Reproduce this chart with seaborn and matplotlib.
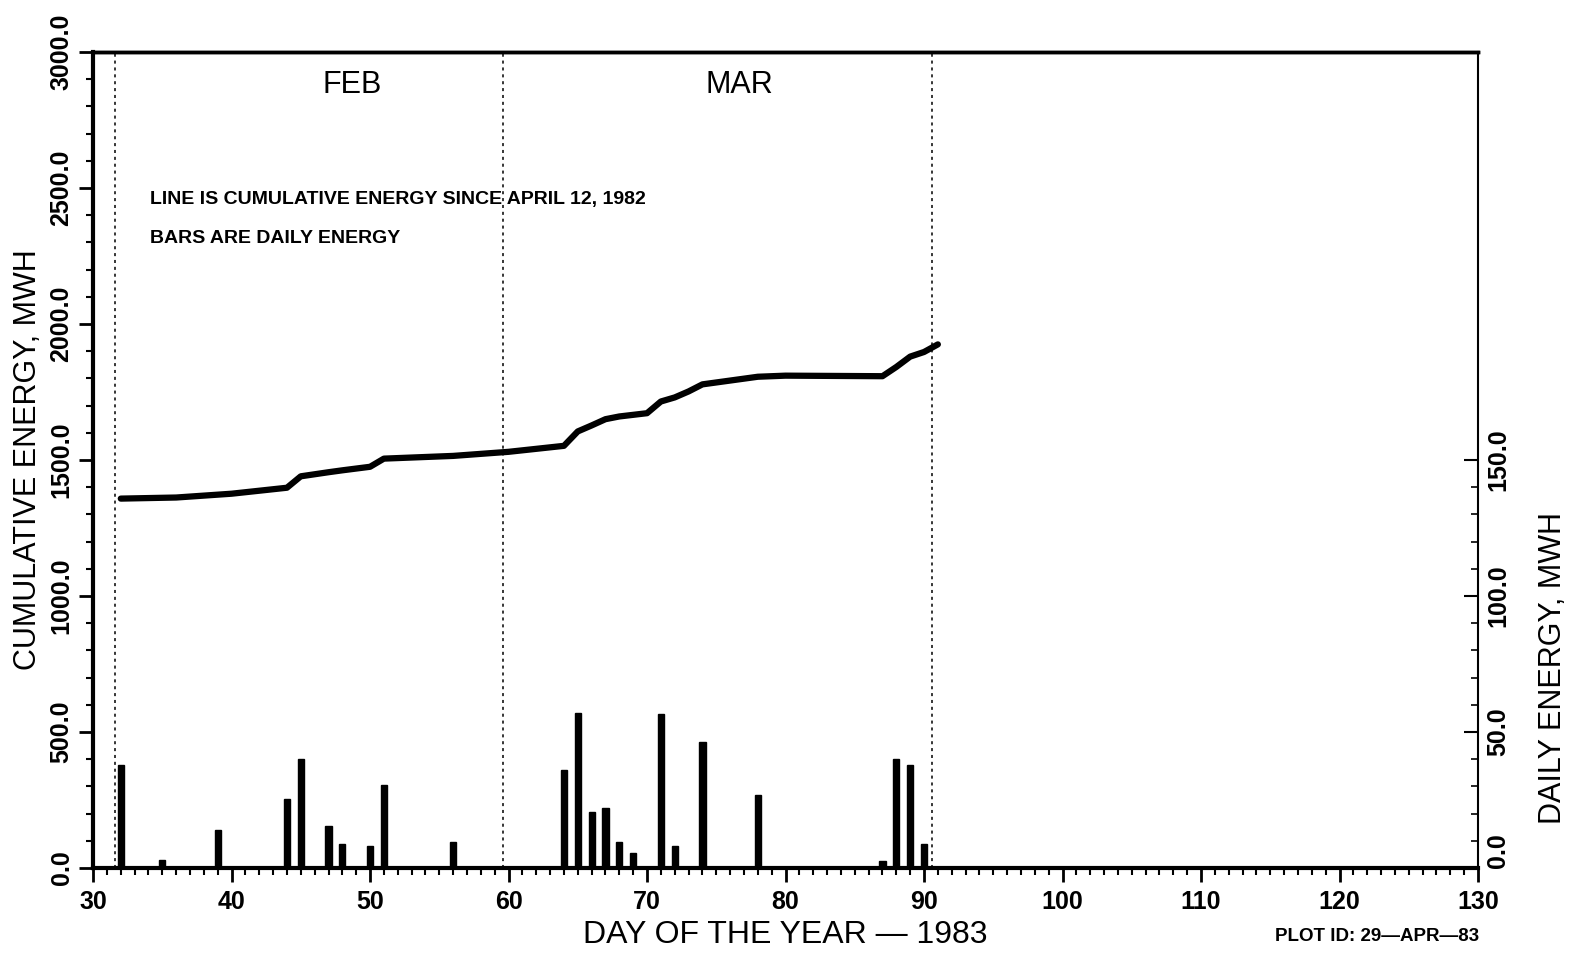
import numpy as np
import pandas as pd
import matplotlib
matplotlib.use("Agg")
import matplotlib.pyplot as plt
from matplotlib.ticker import MultipleLocator, FixedLocator
import seaborn as sns

# daily energy bars (MWh, right axis)
bar_days = [32, 35, 39, 44, 45, 47, 48, 50, 51, 56,
            64, 65, 66, 67, 68, 69, 71, 72, 74, 78, 87, 88, 89, 90]
bar_mwh = [38, 3, 14, 25.5, 40, 15.5, 9, 8, 30.5, 9.5,
           36, 57, 20.5, 22, 9.5, 5.5, 56.5, 8, 46.5, 27, 2.5, 40, 38, 9]

# cumulative energy line (MWh, left axis)
line_days = [32, 36, 40, 44, 45, 47, 48, 50, 51, 56, 60, 64, 65, 66, 67,
             68, 69, 70, 71, 72, 73, 74, 76, 78, 80, 87, 88, 89, 90, 91]
line_mwh = [1358, 1362, 1376, 1398, 1440, 1455, 1462, 1475, 1505, 1515,
            1530, 1552, 1605, 1627, 1650, 1660, 1666, 1672, 1715, 1730,
            1752, 1778, 1792, 1806, 1810, 1808, 1842, 1880, 1897, 1925]

month_edges = [31.6, 59.6, 90.6]
month_names = ["FEB", "MAR"]
month_pos = [48.7, 76.7]

x_ticks = list(range(30, 131, 10))
left_ticks = [0, 500, 1000, 1500, 2000, 2500, 3000]
right_ticks = [0, 50, 100, 150]

sns.set_style("ticks")
plt.rcParams['font.family'] = ['Liberation Sans', 'DejaVu Sans']
plt.rcParams.update({"text.color": "black", "axes.labelcolor": "black",
                     "xtick.color": "black", "ytick.color": "black",
                     "axes.edgecolor": "black"})

fig = plt.figure(figsize=(15.72, 9.57), dpi=100)
ax = fig.add_axes([0.0592, 0.0930, 0.8810, 0.8527])
ax2 = ax.twinx()

df_line = pd.DataFrame({"day": line_days, "mwh": line_mwh})
sns.lineplot(data=df_line, x="day", y="mwh", ax=ax, color="black",
             linewidth=4.5, solid_capstyle="round")

df_bar = pd.DataFrame({"day": bar_days, "mwh": bar_mwh})
sns.barplot(data=df_bar, x="day", y="mwh", ax=ax2, native_scale=True,
            width=0.45, color="black", edgecolor="black", errorbar=None)

for xe in month_edges:
    ax.axvline(xe, color="black", linestyle=(0, (2, 2.5)), linewidth=1.1)

for name, xp in zip(month_names, month_pos):
    ax.text(xp, 2880, name, ha="center", va="center", fontsize=22)

ax.text(34.1, 2456, "LINE IS CUMULATIVE ENERGY SINCE APRIL 12, 1982",
        ha="left", va="center", fontsize=14, fontweight="bold")
ax.text(34.1, 2316, "BARS ARE DAILY ENERGY",
        ha="left", va="center", fontsize=14, fontweight="bold")

ax.set_xlim(30, 130)
ax.set_ylim(0, 3000)
ax2.set_ylim(0, 300)

ax.xaxis.set_major_locator(FixedLocator(x_ticks))
ax.xaxis.set_minor_locator(MultipleLocator(1))
ax.yaxis.set_major_locator(FixedLocator(left_ticks))
ax.yaxis.set_minor_locator(MultipleLocator(100))
ax2.yaxis.set_major_locator(FixedLocator(right_ticks))
ax2.yaxis.set_minor_locator(FixedLocator(list(range(0, 151, 10))))

ax.set_xticklabels([str(t) for t in x_ticks], fontsize=18, fontweight="bold")
ax.set_yticklabels([f"{t:.1f}" for t in left_ticks], fontsize=18,
                   fontweight="bold", rotation=90, va="center")
ax2.set_yticklabels([f"{t:.1f}" for t in right_ticks], fontsize=18,
                    fontweight="bold", rotation=90, va="center")
ax2.get_yticklabels()[0].set_va("bottom")

ax.tick_params(axis="x", which="major", direction="out", length=10, width=2, pad=6)
ax.tick_params(axis="x", which="minor", direction="out", length=5, width=1.5)
ax.tick_params(axis="y", which="major", direction="out", length=10, width=2, pad=4)
ax.tick_params(axis="y", which="minor", direction="out", length=5, width=1.5)
ax2.tick_params(axis="y", which="major", direction="in", length=10, width=1.5, pad=6)
ax2.tick_params(axis="y", which="minor", direction="in", length=5, width=1.2)

for side in ["left", "bottom"]:
    ax.spines[side].set_linewidth(3)
ax.spines["top"].set_linewidth(2.5)
ax.spines["right"].set_visible(False)
ax2.spines["right"].set_linewidth(1.5)
ax2.spines["top"].set_linewidth(2.5)
ax2.spines["left"].set_visible(False)
ax2.spines["bottom"].set_visible(False)

ax.set_xlabel("DAY OF THE YEAR \u2014 1983", fontsize=23, labelpad=4)
ax.set_ylabel("CUMULATIVE ENERGY, MWH", fontsize=22)
ax.yaxis.set_label_coords(-0.036, 0.5)
ax2.set_ylabel("DAILY ENERGY, MWH", fontsize=22)
ax2.yaxis.set_label_coords(1.043, 0.245)

fig.text(0.876, 0.021, "PLOT ID: 29\u2014APR\u201483", ha="center",
         va="center", fontsize=13.5, fontweight="bold")

fig.savefig("out.png", dpi=100)
